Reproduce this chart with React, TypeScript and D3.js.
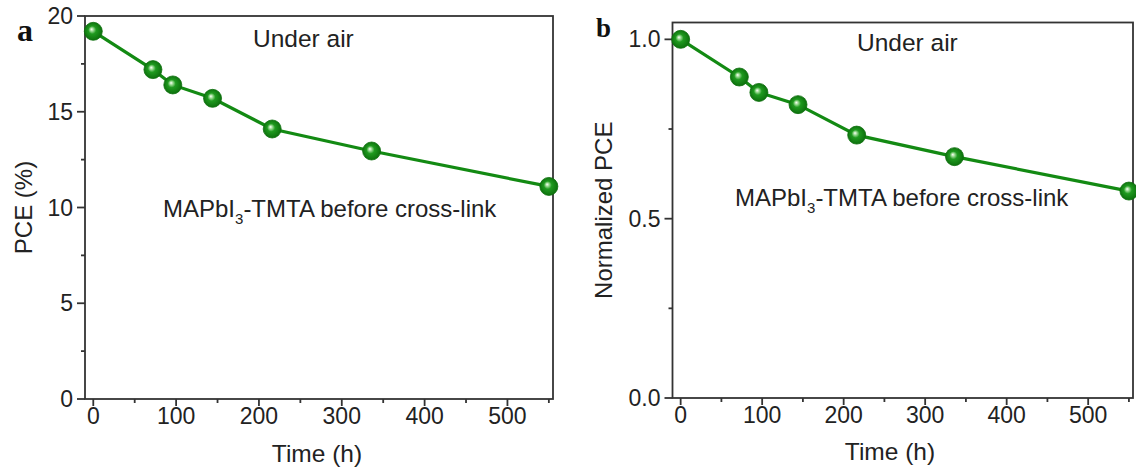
import React from "react";
import * as d3 from "d3";

const times = [0, 72, 96, 144, 216, 336, 550];
const pce = [19.2, 17.2, 16.4, 15.7, 14.1, 12.95, 11.1];
const normalized = [1.0, 0.895, 0.852, 0.818, 0.733, 0.673, 0.577];
const xTicks = [0, 100, 200, 300, 400, 500];
const xMinor = [50, 150, 250, 350, 450, 550];
const yTicksA = [0, 5, 10, 15, 20];
const yMinorA = [2.5, 7.5, 12.5, 17.5];
const yTicksB = [0, 0.5, 1.0];
const yMinorB = [0.25, 0.75];

const FONT = "'Liberation Sans', Arial, Helvetica, sans-serif";
const LINE = "#138a13";
const AXIS = "#333";

type PanelProps = {
  left: number; right: number; top: number; bottom: number;
  yMax: number; values: number[]; yTicks: number[]; yMinor: number[];
  yFmt: (v: number) => string; yTitle: string; yTitleX: number;
  letter: string; letterX: number; letterY: number; letterSize: number;
  xTitleX: number; xTitleY: number;
  airX: number; airY: number; mapX: number; mapY: number; gid: string;
};

function Panel(p: PanelProps) {
  const x = d3.scaleLinear().domain([-10, 555]).range([p.left, p.right]);
  const y = d3.scaleLinear().domain([0, p.yMax]).range([p.bottom, p.top]);
  const line = d3.line<number>().x((_, i) => x(times[i])).y((d) => y(d));
  return (
    <g>
      <text x={p.letterX} y={p.letterY} fontFamily="'Liberation Serif', 'Times New Roman', serif" fontWeight="bold" fontSize={p.letterSize} fill="#111">{p.letter}</text>
      <rect x={p.left} y={p.top} width={p.right - p.left} height={p.bottom - p.top} fill="none" stroke={AXIS} strokeWidth={1.8} />
      {xTicks.map((t) => (
        <g key={"xt" + t}>
          <line x1={x(t)} x2={x(t)} y1={p.bottom} y2={p.bottom + 7} stroke={AXIS} strokeWidth={1.8} />
          <text x={x(t)} y={p.bottom + 25} textAnchor="middle" fontFamily={FONT} fontSize={23} fill="#222">{t}</text>
        </g>
      ))}
      {xMinor.map((t) => (
        <line key={"xm" + t} x1={x(t)} x2={x(t)} y1={p.bottom} y2={p.bottom + 4} stroke={AXIS} strokeWidth={1.8} />
      ))}
      {p.yTicks.map((t) => (
        <g key={"yt" + t}>
          <line x1={p.left - 8} x2={p.left} y1={y(t)} y2={y(t)} stroke={AXIS} strokeWidth={1.8} />
          <text x={p.left - 12} y={y(t) + 8} textAnchor="end" fontFamily={FONT} fontSize={23} fill="#222">{p.yFmt(t)}</text>
        </g>
      ))}
      {p.yMinor.map((t) => (
        <line key={"ym" + t} x1={p.left - 4} x2={p.left} y1={y(t)} y2={y(t)} stroke={AXIS} strokeWidth={1.8} />
      ))}
      <text x={p.xTitleX} y={p.xTitleY} textAnchor="middle" fontFamily={FONT} fontSize={24.5} fill="#222">Time (h)</text>
      <text transform={`translate(${p.yTitleX},${(p.top + p.bottom) / 2}) rotate(-90)`} textAnchor="middle" fontFamily={FONT} fontSize={24} fill="#222">{p.yTitle}</text>
      <text x={p.airX} y={p.airY} fontFamily={FONT} fontSize={24.5} fill="#222">Under air</text>
      <text x={p.mapX} y={p.mapY} fontFamily={FONT} fontSize={24} fill="#222">
        MAPbI<tspan fontSize={15} dy={7}>3</tspan><tspan dy={-7}>-TMTA before cross-link</tspan>
      </text>
      <path d={line(p.values) || ""} fill="none" stroke={LINE} strokeWidth={3.2} />
      {p.values.map((v, i) => (
        <circle key={"c" + i} cx={x(times[i])} cy={y(v)} r={9} fill={`url(#${p.gid})`} stroke="#0d6e0d" strokeWidth={0.8} />
      ))}
    </g>
  );
}

export default function App() {
  return (
    <svg width={1136} height={472} style={{ display: "block", position: "absolute", left: 0, top: 0, background: "#fff" }}>
      <defs>
        {["ga", "gb"].map((id) => (
          <radialGradient key={id} id={id} cx="0.5" cy="0.5" r="0.55" fx="0.4" fy="0.38">
            <stop offset="0" stopColor="#ffffff" />
            <stop offset="0.15" stopColor="#a8e0a0" />
            <stop offset="0.4" stopColor="#1f9a1f" />
            <stop offset="1" stopColor="#0a6a0a" />
          </radialGradient>
        ))}
      </defs>
      <Panel left={85} right={553} top={16} bottom={399} yMax={20} values={pce}
        yTicks={yTicksA} yMinor={yMinorA} yFmt={(v) => String(v)} yTitle="PCE (%)" yTitleX={32}
        letter="a" letterX={17} letterY={41} letterSize={32}
        xTitleX={317} xTitleY={462} airX={253} airY={47} mapX={163} mapY={217} gid="ga" />
      <Panel left={672.5} right={1133} top={22.5} bottom={398} yMax={1.047} values={normalized}
        yTicks={yTicksB} yMinor={yMinorB} yFmt={(v) => v.toFixed(1)} yTitle="Normalized PCE" yTitleX={612}
        letter="b" letterX={596} letterY={37} letterSize={27}
        xTitleX={890} xTitleY={460} airX={857} airY={51} mapX={735} mapY={206} gid="gb" />
    </svg>
  );
}
